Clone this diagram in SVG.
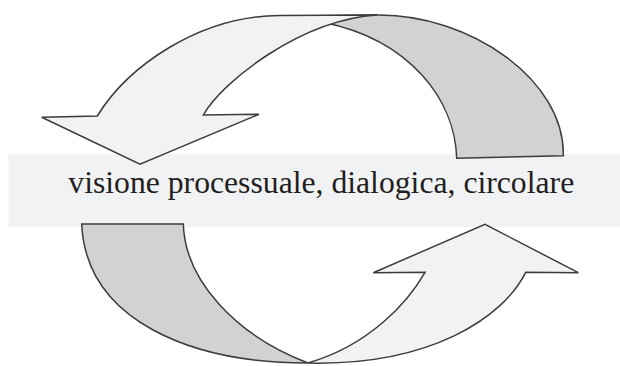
<svg xmlns="http://www.w3.org/2000/svg" width="620" height="366" viewBox="0 0 620 366">
<style>
.light{fill:#f1f2f4;stroke:#3c3c3c;stroke-width:1.5;stroke-linejoin:miter}
.dark{fill:#d1d2d4;stroke:#3c3c3c;stroke-width:1.5;stroke-linejoin:miter}
.band{fill:#f1f2f4}
.label{font-family:"Liberation Serif","Times New Roman",serif;font-size:31.7px;fill:#231f20}
</style>
<rect id="band" class="band" x="8.5" y="154.3" width="611.5" height="73"/>
<g id="label">
<text class="label" x="68.3" y="193.3">visione processuale, dialogica, circolare</text>
</g>
<g id="connectors">
<g id="top-back">
<path class="dark" d="M300,16 L377,15 C470,14 565,80 563.3,155.7 L456.7,158.3 C455,100 410,40 324,22.5 Z"/>
</g>
<g id="top-arrow">
<path class="light" d="M377,15 L280,15.5 C200,15.5 128,66 97.3,116 L41.7,117.3 L140,164.3 L259,114.3 L203.3,115 C222,82 300,20 377,15 Z"/>
</g>
<g id="bottom-back">
<path class="dark" d="M81.7,224 L183.3,224 C185,280 235,335 308,363 C190,363 86,320 81.7,224 Z"/>
</g>
<g id="bottom-arrow">
<path class="light" d="M308,363 C370,345 408,302 425,272.3 L373.3,272.7 L485,224.3 L578.3,272.7 L525.7,272.3 C503,318 430,366 308,363 Z"/>
</g>
</g>
</svg>
